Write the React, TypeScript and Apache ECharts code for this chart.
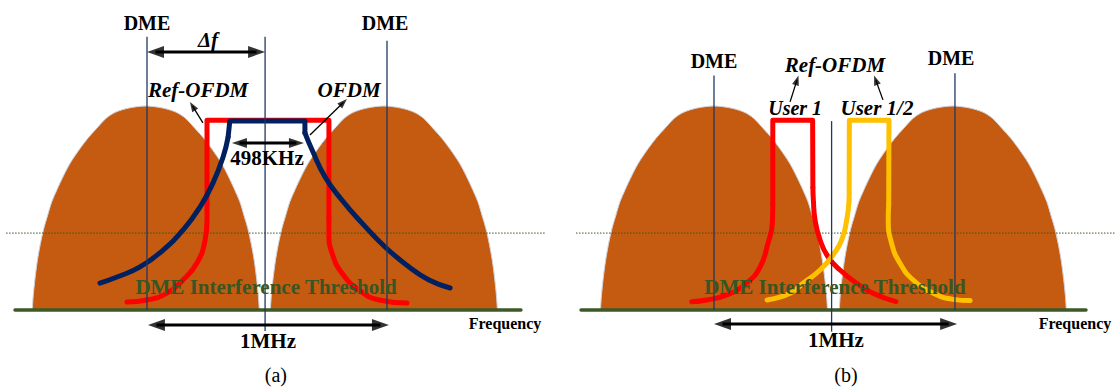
import { useEffect, useRef } from 'react';
import * as echarts from 'echarts';

type Pt = [number, number];

// ---------- layout constants ----------
const W = 1115;
const H = 387;
const PX_PER_KHZ = 0.24;
const PX_PER_LEVEL = 2.04;
const X_RANGE: Pt = [-1100, 1170];
const Y_RANGE: Pt = [-36, 150];
const PANEL_CENTER_PX = [267, 834];
const BASELINE_PX = 310;
const FONT = '"Liberation Serif", "Times New Roman", serif';

// ---------- data (frequency offset in kHz, relative level: ground = 0, DME peak = 100) ----------
const LOBE_SHAPE: Pt[] = [
  [-473, 0], [-469, 7], [-462, 15], [-452, 24], [-440, 32], [-425, 40], [-410, 46], [-392, 53], [-370, 59],
  [-342, 66], [-315, 72], [-275, 79], [-243, 84], [-205, 89], [-165, 94], [-125, 97], [-70, 99],
  [0, 100],
  [70, 99], [125, 97], [165, 94], [205, 89], [243, 84], [275, 79], [315, 72], [342, 66], [370, 59],
  [392, 53], [410, 46], [425, 40], [440, 32], [452, 24], [462, 15], [469, 7], [473, 0],
];
const A_LOBE_CENTERS = [-505, 487];
const B_LOBE_CENTERS = [-500, 495];

// panel (a) Ref-OFDM (red)
const A_REF_TOP: Pt[] = [[-250, 52], [-250, 93], [258, 93], [258, 45]];
const A_REF_LEFT: Pt[] = [[-250, 52], [-250, 44], [-258, 34.3], [-292, 23], [-350, 14.7], [-417, 8.3], [-500, 4.9], [-583, 3.9]];
const A_REF_RIGHT: Pt[] = [[258, 45], [258, 37.7], [271, 27.9], [312, 18.1], [383, 9.8], [467, 4.9], [583, 3.4]];
// panel (a) OFDM (blue)
const A_OFDM_TOP: Pt[] = [[-162, 84.8], [-155, 92.6], [158, 92.6], [158, 86.8]];
const A_OFDM_LEFT: Pt[] = [[-162, 84.8], [-183, 75], [-225, 62.3], [-279, 50.5], [-350, 39.2], [-433, 29.4], [-529, 21.1], [-625, 16.2], [-696, 13.2]];
const A_OFDM_RIGHT: Pt[] = [[158, 86.8], [188, 78.4], [242, 65.2], [312, 53.9], [396, 42.6], [492, 30.9], [592, 21.1], [675, 14.7], [763, 10.8]];
// panel (b) User 1 (red)
const B_USER1_TOP: Pt[] = [[-255, 52], [-255, 93], [-89, 93], [-88, 60]];
const B_USER1_LEFT: Pt[] = [[-255, 52], [-257, 42.5], [-275, 32.8], [-308, 21.1], [-364, 13.2], [-447, 7.4], [-530, 4.9], [-593, 4.1]];
const B_USER1_RIGHT: Pt[] = [[-88, 60], [-86, 53.9], [-79, 44.1], [-58, 34.3], [-25, 26.1], [25, 19.6], [95, 13.1], [162, 8.2], [258, 4.1]];
// panel (b) User 1/2 (yellow)
const B_USER12_TOP: Pt[] = [[63, 54], [64, 93], [229, 93], [228, 52]];
const B_USER12_LEFT: Pt[] = [[63, 54], [53, 44.1], [32, 34.3], [-4, 27], [-58, 19.6], [-129, 13.1], [-183, 8.2], [-279, 4.9]];
const B_USER12_RIGHT: Pt[] = [[228, 52], [226, 44.1], [240, 32.7], [275, 22.9], [330, 14.7], [414, 8.2], [497, 5.2], [567, 4.6]];

// vertical markers: [frequency, top level, bottom level]
const A_MARKERS: [number, number, number][] = [[-500, 134, 0], [500, 132, 0], [-8, 134, -10.3]];
const B_MARKERS: [number, number, number][] = [[-500, 115, 0], [504, 116, 0], [-10, 92.6, -10.6]];

const THRESHOLD_LEVEL = 37.7;
const A_THRESHOLD_SPAN: Pt = [-1087, 1158];
const B_THRESHOLD_SPAN: Pt = [-1075, 1170];
const A_GROUND_SPAN: Pt = [-1050, 1058];
const B_GROUND_SPAN: Pt = [-1054, 1050];

// arrows [from, to]
const A_SPAN_ARROWS: [Pt, Pt][] = [[[-500, 126.5], [-8, 126.5]], [[-496, -7.4], [508, -7.4]]];
const A_BW_ARROW: [Pt, Pt] = [[-146, 81.9], [154, 81.9]];
const A_POINTERS: [Pt, Pt][] = [[[-267, 91.7], [-321, 102]], [[179, 85.8], [333, 103.4]]];
const B_SPAN_ARROWS: [Pt, Pt][] = [[[-500, -6.9], [513, -6.9]]];
const B_POINTERS: [Pt, Pt][] = [[[-183, 102], [-148, 115]], [[204, 103], [167, 115]]];

// labels [text, frequency, level, style]
const A_LABELS: [string, number, number, string][] = [
  ['DME', -500, 140.7, 'dme'],
  ['DME', 492, 140.7, 'dme'],
  ['Δf', -246, 132.4, 'italic'],
  ['Ref-OFDM', -287, 107.8, 'italic'],
  ['OFDM', 342, 107.8, 'italic'],
  ['498KHz', 0, 74.5, 'bold'],
  ['DME Interference Threshold', -4, 11.3, 'threshold'],
  ['Frequency', 992, -6.4, 'freq'],
  ['1MHz', 4, -15.2, 'bold'],
  ['(a)', 37, -31.9, 'caption'],
];
const B_LABELS: [string, number, number, string][] = [
  ['DME', -500, 122, 'dme'],
  ['DME', 488, 123.5, 'dme'],
  ['Ref-OFDM', 4, 120, 'italic'],
  ['User 1', -162, 99, 'user'],
  ['User 1/2', 179, 99, 'italic'],
  ['DME Interference Threshold', 4, 11.3, 'threshold'],
  ['Frequency', 1004, -6.4, 'freq'],
  ['1MHz', 8, -14.7, 'bold'],
  ['(b)', 50, -31.9, 'caption'],
];

// ---------- styles ----------
const COLORS = {
  lobe: '#C55A11',
  lobeEdge: '#cfd3dc',
  red: '#FF0000',
  blue: '#002060',
  yellow: '#FFC000',
  marker: '#1F3864',
  green: '#375623',
  ground: '#3B5A27',
  black: '#000000',
};
const LABEL_STYLES: Record<string, any> = {
  dme: { fontSize: 20, fontWeight: 'bold', fontStyle: 'normal', color: COLORS.black },
  italic: { fontSize: 21, fontWeight: 'bold', fontStyle: 'italic', color: COLORS.black },
  user: { fontSize: 20, fontWeight: 'bold', fontStyle: 'italic', color: COLORS.black },
  bold: { fontSize: 21, fontWeight: 'bold', fontStyle: 'normal', color: COLORS.black },
  threshold: { fontSize: 21, fontWeight: 'bold', fontStyle: 'normal', color: COLORS.green },
  freq: { fontSize: 16, fontWeight: 'bold', fontStyle: 'normal', color: COLORS.black },
  caption: { fontSize: 20, fontWeight: 'normal', fontStyle: 'normal', color: COLORS.black },
};

function line(gi: number, data: Pt[], color: string, width: number, z: number, extra: any = {}) {
  return {
    type: 'line',
    xAxisIndex: gi,
    yAxisIndex: gi,
    data,
    symbol: 'none',
    showSymbol: false,
    silent: true,
    clip: false,
    z,
    lineStyle: { color, width, cap: 'round', join: 'round', ...(extra.lineStyle || {}) },
    smooth: extra.smooth ?? false,
    ...(extra.areaStyle ? { areaStyle: extra.areaStyle } : {}),
  };
}

function arrow(gi: number, from: Pt, to: Pt, width: number, headLen: number, headWid: number, both: boolean) {
  const dxp = (to[0] - from[0]) * PX_PER_KHZ;
  const dyp = (to[1] - from[1]) * PX_PER_LEVEL;
  const len = Math.hypot(dxp, dyp);
  const ux = dxp / len;
  const uy = dyp / len;
  const angle = (Math.atan2(dyp, dxp) * 180) / Math.PI;
  const offX = (ux * headLen) / 2 / PX_PER_KHZ;
  const offY = (uy * headLen) / 2 / PX_PER_LEVEL;
  const endHead: Pt = [to[0] - offX, to[1] - offY];
  const startHead: Pt = [from[0] + offX, from[1] + offY];
  const heads: any[] = [{ value: endHead, symbolRotate: angle - 90 }];
  if (both) heads.push({ value: startHead, symbolRotate: angle + 90 });
  return [
    {
      type: 'line',
      xAxisIndex: gi,
      yAxisIndex: gi,
      data: [both ? startHead : from, endHead],
      symbol: 'none',
      silent: true,
      clip: false,
      z: 6,
      lineStyle: { color: COLORS.black, width, cap: 'butt' },
    },
    {
      type: 'scatter',
      xAxisIndex: gi,
      yAxisIndex: gi,
      data: heads,
      symbol: 'triangle',
      symbolSize: [headWid, headLen],
      silent: true,
      clip: false,
      z: 6,
      itemStyle: { color: COLORS.black },
    },
  ];
}

function labels(gi: number, list: [string, number, number, string][]) {
  return {
    type: 'scatter',
    xAxisIndex: gi,
    yAxisIndex: gi,
    silent: true,
    clip: false,
    z: 8,
    symbolSize: 1,
    itemStyle: { color: 'rgba(0,0,0,0)' },
    data: list.map(([t, x, y, s]) => ({
      name: t,
      value: [x, y],
      label: { ...LABEL_STYLES[s] },
    })),
    label: {
      show: true,
      position: 'inside',
      formatter: '{b}',
      fontFamily: FONT,
      align: 'center',
      verticalAlign: 'middle',
      opacity: 1,
    },
  };
}

function buildOption() {
  const grids = PANEL_CENTER_PX.map((c) => ({
    left: c + X_RANGE[0] * PX_PER_KHZ,
    top: BASELINE_PX - Y_RANGE[1] * PX_PER_LEVEL,
    width: (X_RANGE[1] - X_RANGE[0]) * PX_PER_KHZ,
    height: (Y_RANGE[1] - Y_RANGE[0]) * PX_PER_LEVEL,
    containLabel: false,
  }));
  const xAxis = grids.map((_, i) => ({ type: 'value', gridIndex: i, min: X_RANGE[0], max: X_RANGE[1], show: false }));
  const yAxis = grids.map((_, i) => ({ type: 'value', gridIndex: i, min: Y_RANGE[0], max: Y_RANGE[1], show: false }));

  const series: any[] = [];
  const lobeSeries = (gi: number, centers: number[]) =>
    centers.forEach((c) =>
      series.push(
        line(gi, LOBE_SHAPE.map(([dx, l]) => [c + dx, l] as Pt), COLORS.lobeEdge, 1, 1, {
          smooth: 0.3,
          areaStyle: { color: COLORS.lobe, opacity: 1 },
        })
      )
    );
  lobeSeries(0, A_LOBE_CENTERS);
  lobeSeries(1, B_LOBE_CENTERS);

  // threshold (dotted) and ground
  [[0, A_THRESHOLD_SPAN], [1, B_THRESHOLD_SPAN]].forEach(([gi, span]: any) =>
    series.push(
      line(gi, [[span[0], THRESHOLD_LEVEL], [span[1], THRESHOLD_LEVEL]], COLORS.green, 1, 2, {
        lineStyle: { type: [1.5, 1.5], cap: 'butt' },
      })
    )
  );
  [[0, A_GROUND_SPAN], [1, B_GROUND_SPAN]].forEach(([gi, span]: any) =>
    series.push(line(gi, [[span[0], 0], [span[1], 0]], COLORS.ground, 3.5, 3, { lineStyle: { cap: 'round' } }))
  );

  // spectra
  const shape = (gi: number, top: Pt[], left: Pt[], right: Pt[], color: string) => {
    series.push(line(gi, top, color, 5, 4));
    series.push(line(gi, left, color, 5, 4, { smooth: 0.5 }));
    series.push(line(gi, right, color, 5, 4, { smooth: 0.5 }));
  };
  shape(0, A_REF_TOP, A_REF_LEFT, A_REF_RIGHT, COLORS.red);
  shape(0, A_OFDM_TOP, A_OFDM_LEFT, A_OFDM_RIGHT, COLORS.blue);
  shape(1, B_USER1_TOP, B_USER1_LEFT, B_USER1_RIGHT, COLORS.red);
  shape(1, B_USER12_TOP, B_USER12_LEFT, B_USER12_RIGHT, COLORS.yellow);

  // vertical DME / centre markers
  [[0, A_MARKERS], [1, B_MARKERS]].forEach(([gi, list]: any) =>
    list.forEach(([x, t, b]: number[]) =>
      series.push(line(gi, [[x, t], [x, b]], COLORS.marker, 1.3, 5, { lineStyle: { cap: 'butt' } }))
    )
  );

  // arrows
  A_SPAN_ARROWS.forEach(([f, t]) => series.push(...arrow(0, f, t, 3, 17, 12, true)));
  series.push(...arrow(0, A_BW_ARROW[0], A_BW_ARROW[1], 3, 15, 10, true));
  A_POINTERS.forEach(([f, t]) => series.push(...arrow(0, f, t, 1.3, 10, 7, false)));
  B_SPAN_ARROWS.forEach(([f, t]) => series.push(...arrow(1, f, t, 3, 17, 12, true)));
  B_POINTERS.forEach(([f, t]) => series.push(...arrow(1, f, t, 1.3, 10, 7, false)));

  series.push(labels(0, A_LABELS));
  series.push(labels(1, B_LABELS));

  return {
    animation: false,
    backgroundColor: '#ffffff',
    grid: grids,
    xAxis,
    yAxis,
    series,
  };
}

export default function App() {
  const ref = useRef<HTMLDivElement>(null);
  useEffect(() => {
    document.body.style.margin = '0';
    if (!ref.current) return;
    const chart = echarts.init(ref.current, undefined, { renderer: 'svg', width: W, height: H });
    chart.setOption(buildOption() as any);
    return () => chart.dispose();
  }, []);
  return <div ref={ref} style={{ width: W, height: H, background: '#fff' }} />;
}
